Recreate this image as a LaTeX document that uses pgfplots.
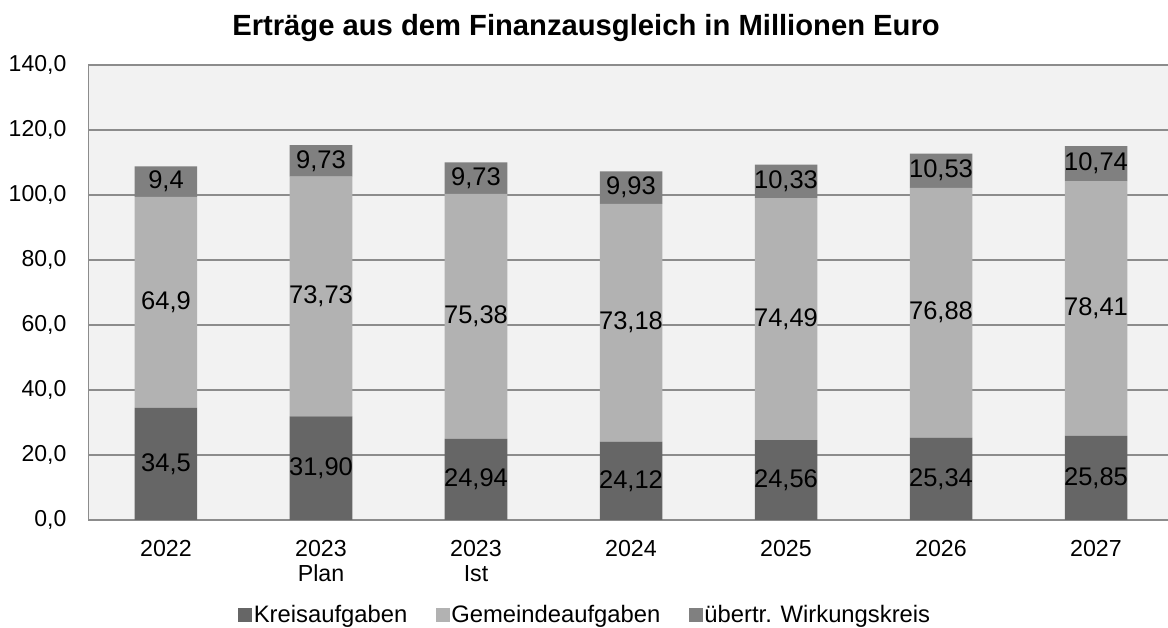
\documentclass[border=0pt]{standalone}
\usepackage{pgfplots}
\pgfplotsset{compat=1.18}
\usepackage{fontspec}
\setmainfont{Liberation Sans}
\definecolor{cK}{HTML}{666666}
\definecolor{cG}{HTML}{B2B2B2}
\definecolor{cW}{HTML}{808080}
\definecolor{bgc}{HTML}{F2F2F2}
\definecolor{gridc}{HTML}{8C8C8C}
\pgfplotstableread{
x K G W
0 34.5 64.9 9.4
1 31.90 73.73 9.73
2 24.94 75.38 9.73
3 24.12 73.18 9.93
4 24.56 74.49 10.33
5 25.34 76.88 10.53
6 25.85 78.41 10.74
}\datatable
\pgfplotstableread{
x y label
0 17.25 34,5
1 15.95 31,90
2 12.47 24,94
3 12.06 24,12
4 12.28 24,56
5 12.67 25,34
6 12.925 25,85
0 66.95 64,9
1 68.765 73,73
2 62.63 75,38
3 60.71 73,18
4 61.805 74,49
5 63.78 76,88
6 65.055 78,41
0 104.1 9,4
1 110.495 9,73
2 105.185 9,73
3 102.265 9,93
4 104.215 10,33
5 107.485 10,53
6 109.63 10,74
}\labeltable
\begin{document}
\begin{tikzpicture}[x=1pt,y=1pt]
\useasboundingbox (0,0) rectangle (1168,628);
\fill[white] (0,0) rectangle (1168,628);
\pgfplotsset{
  base/.style={
    at={(88.5pt,108pt)}, anchor=south west,
    scale only axis, width=1085pt, height=455pt,
    xmin=-0.5, xmax=6.5, ymin=0, ymax=140,
  }
}
\begin{axis}[base, ybar stacked, bar width=62.5pt,
  axis background/.style={fill=bgc},
  axis x line*=bottom, axis y line*=left,
  axis line style={-, draw=gridc, line width=1.5pt},
  ytick={0,20,...,140},
  ymajorgrids, major grid style={draw=gridc, line width=1.5pt},
  major tick length=0pt, tick style={draw=none},
  /pgf/number format/.cd, fixed, fixed zerofill, precision=1, use comma, assume math mode=true,
  /pgfplots/.cd,
  yticklabel style={font=\fontsize{23}{27}\selectfont, anchor=east, inner sep=0pt, xshift=-22pt},
  xtick={0,...,6},
  xticklabels={2022,{2023\\Plan},{2023\\Ist},2024,2025,2026,2027},
  xticklabel style={font=\fontsize{23.2}{25}\selectfont, anchor=north, align=center, inner sep=0pt, yshift=-20pt},
  legend style={at={(0.4576,-0.2088)}, anchor=center, draw=none, fill=none,
    font=\fontsize{23.8}{27}\selectfont, legend columns=-1,
    /tikz/every even column/.append style={column sep=27pt},
    nodes={inner sep=1.5pt}},
  legend image code/.code={\fill[#1, draw=none] (0pt,-7pt) rectangle (14pt,7pt);},
]
\addplot[fill=cK, draw=none] table[x=x, y=K] {\datatable};
\addplot[fill=cG, draw=none] table[x=x, y=G] {\datatable};
\addplot[fill=cW, draw=none] table[x=x, y=W] {\datatable};
\legend{Kreisaufgaben, Gemeindeaufgaben, übertr. Wirkungskreis}
\end{axis}
\begin{axis}[base, hide axis, clip=false]
\addplot[only marks, mark=none, nodes near coords, point meta=explicit symbolic,
  nodes near coords align={center},
  every node near coord/.append style={font=\fontsize{25.5}{30}\selectfont, inner sep=0pt, text=black}]
  table[x=x, y=y, meta=label] {\labeltable};
\end{axis}
\node[anchor=base, font=\bfseries\fontsize{29.2}{34}\selectfont] at (586,592.3) {Erträge aus dem Finanzausgleich in Millionen Euro};
\end{tikzpicture}
\end{document}
